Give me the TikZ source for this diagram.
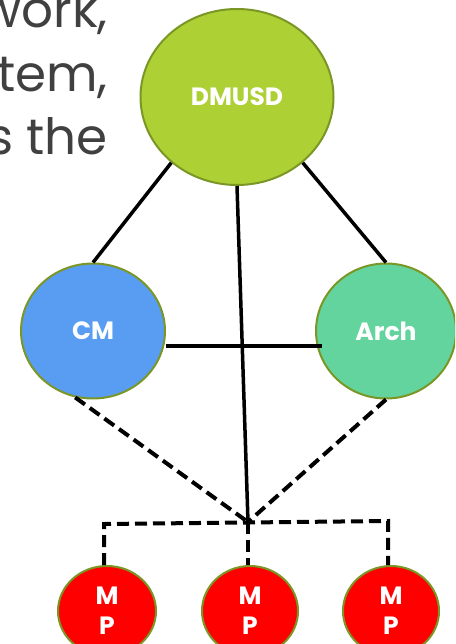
\documentclass[tikz,border=0pt]{standalone}
\usepackage{fontspec}
\setmainfont{Poppins}
\usetikzlibrary{shapes.geometric}
\definecolor{dmgreen}{RGB}{173,209,52}
\definecolor{cmblue}{RGB}{89,157,243}
\definecolor{archgreen}{RGB}{100,212,158}
\definecolor{rimolive}{RGB}{122,150,36}
\definecolor{slidegrey}{RGB}{64,64,64}
\tikzset{
  blob/.style={ellipse, draw=rimolive, line width=2pt, inner sep=0pt, text=white, align=center, font=\fontsize{25}{30}\selectfont\bfseries},
  slidetext/.style={anchor=base east, inner sep=0pt, text=slidegrey, font=\fontsize{50}{60}\selectfont},
  link/.style={line width=3.5pt},
  dlink/.style={line width=4pt, dash pattern=on 12pt off 6pt}
}

\begin{document}
\begin{tikzpicture}[x=1pt,y=-1pt]
\clip (0,0) rectangle (455,644);
\node[slidetext] (l1) at (108,28) {work,};
\node[slidetext] (l2) at (108,92) {tem,};
\node[slidetext] (l3) at (108,155) {s the};
\node[blob, fill=dmgreen, minimum width=193pt, minimum height=176pt] (dmusd) at (237,97) {DMUSD};
\node[blob, fill=cmblue, minimum width=144pt, minimum height=135pt] (cm) at (93,331) {CM};
\node[blob, fill=archgreen, minimum width=140pt, minimum height=135pt, right of=cm, node distance=293pt] (arch) {Arch};
\node[blob, fill=red, minimum width=98pt, minimum height=90pt] (mp1) at (107,611) {M\\P};
\node[blob, fill=red, minimum width=96pt, minimum height=90pt, right of=mp1, node distance=143pt] (mp2) {M\\P};
\node[blob, fill=red, minimum width=96pt, minimum height=90pt, right of=mp2, node distance=141pt] (mp3) {M\\P};
\coordinate (hub) at (248,522);
\coordinate (bl) at (104,524);
\coordinate (br) at (388,521);
\draw[link] (dmusd.225) -- (cm.north);
\draw[link] (dmusd.-45) -- (arch.north);
\draw[link] (dmusd.south) -- (hub);
\draw[line width=4.5pt] ([yshift=-15pt]cm.east) -- ([shift={(7pt,-15pt)}]arch.west);
\draw[dlink] (cm.255) -- (hub);
\draw[dlink] (arch.south) -- (hub);
\draw[dlink] (bl |- mp1.north) -- (bl) -- (br) -- (br |- mp3.north);
\draw[dlink] (hub) -- (hub |- mp2.north);
\end{tikzpicture}
\end{document}
